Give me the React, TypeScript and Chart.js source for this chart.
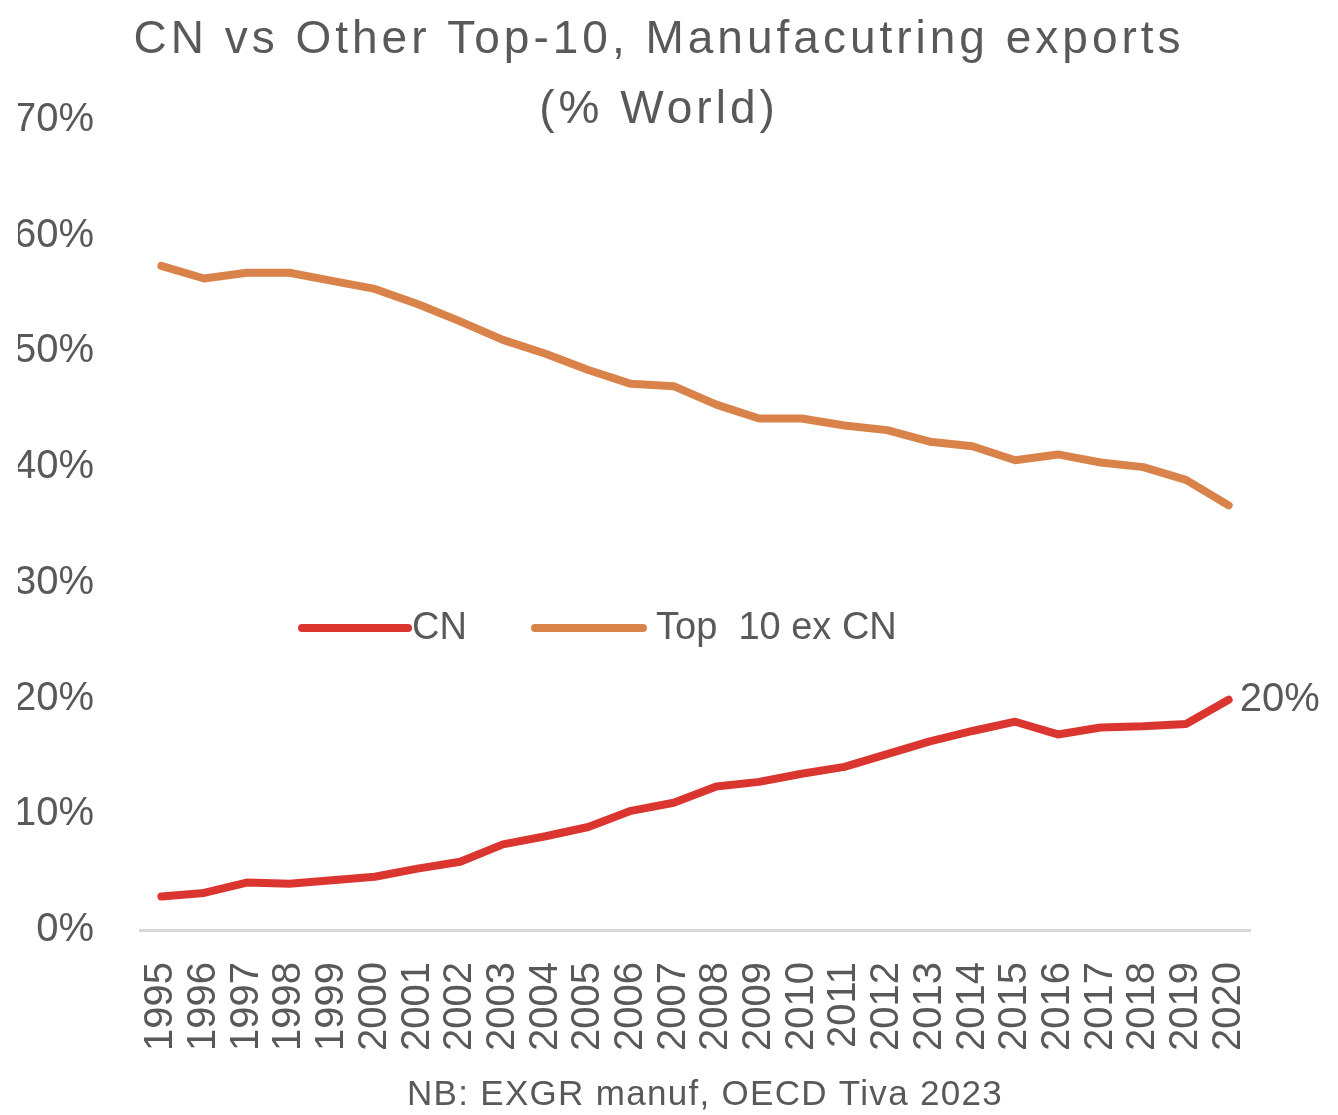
import React, { useEffect, useRef } from "react";
import { Chart, registerables } from "chart.js";

Chart.register(...registerables);

const years = [
  "1995", "1996", "1997", "1998", "1999", "2000", "2001", "2002", "2003", "2004",
  "2005", "2006", "2007", "2008", "2009", "2010", "2011", "2012", "2013", "2014",
  "2015", "2016", "2017", "2018", "2019", "2020",
];

const cnShare = [
  2.9, 3.2, 4.1, 4.0, 4.3, 4.6, 5.3, 5.9, 7.4, 8.1,
  8.9, 10.3, 11.0, 12.4, 12.8, 13.5, 14.1, 15.2, 16.3, 17.2,
  18.0, 16.9, 17.5, 17.6, 17.8, 19.9,
];

const top10ExCn = [
  57.4, 56.3, 56.8, 56.8, 56.1, 55.4, 54.1, 52.6, 51.0, 49.8,
  48.4, 47.2, 47.0, 45.4, 44.2, 44.2, 43.6, 43.2, 42.2, 41.8,
  40.6, 41.1, 40.4, 40.0, 38.9, 36.7,
];

const seriesNames = ["CN", "Top  10 ex CN"];
const titleLines = ["CN vs Other Top-10, Manufacutring exports", "(% World)"];
const footerText = "NB: EXGR manuf, OECD Tiva 2023";
const endLabel = "20%";

const RED = "#db3530";
const ORANGE = "#d9834b";
const TEXT = "#595959";
const FONT = "'Liberation Sans', Arial, sans-serif";

const decorPlugin = {
  id: "decor",
  afterDraw(chart: any) {
    const ctx = chart.ctx as CanvasRenderingContext2D;
    ctx.save();
    ctx.fillStyle = TEXT;
    // Title
    ctx.font = `46px ${FONT}`;
    (ctx as any).letterSpacing = "4px";
    ctx.textAlign = "center";
    ctx.textBaseline = "alphabetic";
    ctx.fillText(titleLines[0], 659, 53);
    ctx.fillText(titleLines[1], 659, 123);

    // Footer
    ctx.font = `35px ${FONT}`;
    (ctx as any).letterSpacing = "1.3px";
    ctx.fillText(footerText, 705, 1105);
    (ctx as any).letterSpacing = "0px";

    // Legend
    const ly = 628;
    ctx.lineCap = "round";
    ctx.lineWidth = 8;
    ctx.strokeStyle = RED;
    ctx.beginPath();
    ctx.moveTo(302, ly);
    ctx.lineTo(408, ly);
    ctx.stroke();
    ctx.strokeStyle = ORANGE;
    ctx.beginPath();
    ctx.moveTo(535, ly);
    ctx.lineTo(643, ly);
    ctx.stroke();
    ctx.font = `38px ${FONT}`;
    ctx.textAlign = "left";
    ctx.textBaseline = "middle";
    ctx.fillStyle = TEXT;
    ctx.fillText(seriesNames[0], 412, ly + 1);
    ctx.fillText(seriesNames[1], 656, ly + 1);

    // End label for CN
    const meta = chart.getDatasetMeta(0);
    const last = meta.data[meta.data.length - 1];
    ctx.font = `40px ${FONT}`;
    ctx.fillText(endLabel, last.x + 11, last.y);
    ctx.restore();
  },
};

export default function App() {
  const ref = useRef<HTMLCanvasElement | null>(null);

  useEffect(() => {
    if (!ref.current) return;
    const chart = new Chart(ref.current, {
      type: "line",
      data: {
        labels: years,
        datasets: [
          {
            label: seriesNames[0],
            data: cnShare,
            borderColor: RED,
            backgroundColor: RED,
            borderWidth: 8,
            pointRadius: 0,
            tension: 0,
            borderCapStyle: "round",
            borderJoinStyle: "round",
          },
          {
            label: seriesNames[1],
            data: top10ExCn,
            borderColor: ORANGE,
            backgroundColor: ORANGE,
            borderWidth: 8,
            pointRadius: 0,
            tension: 0,
            borderCapStyle: "round",
            borderJoinStyle: "round",
          },
        ],
      },
      options: {
        responsive: false,
        animation: false,
        devicePixelRatio: 1,
        layout: { padding: { left: 18, right: 88, top: 120, bottom: 0 } },
        plugins: {
          legend: { display: false },
          title: { display: false },
          tooltip: { enabled: false },
        },
        scales: {
          x: {
            offset: true,
            grid: { display: false, drawTicks: false, tickLength: 0 },
            border: { display: true, color: "#d9d9d9", width: 3 },
            ticks: {
              color: TEXT,
              font: { family: FONT, size: 40 },
              minRotation: 90,
              maxRotation: 90,
              autoSkip: false,
              padding: 32,
            },
            afterFit(scale: any) {
              scale.height = 185;
            },
          },
          y: {
            min: 0,
            max: 70,
            grid: { display: false, drawTicks: false, tickLength: 0 },
            border: { display: false },
            ticks: {
              stepSize: 10,
              color: TEXT,
              font: { family: FONT, size: 40 },
              padding: 46,
              callback: (v: any) => `${v}%`,
            },
            afterFit(scale: any) {
              scale.width = 122;
            },
          },
        },
      },
      plugins: [decorPlugin],
    });
    return () => chart.destroy();
  }, []);

  return (
    <div style={{ position: "absolute", left: 0, top: 0, width: 1338, height: 1115, background: "#fff" }}>
      <canvas ref={ref} width={1338} height={1115} />
    </div>
  );
}
